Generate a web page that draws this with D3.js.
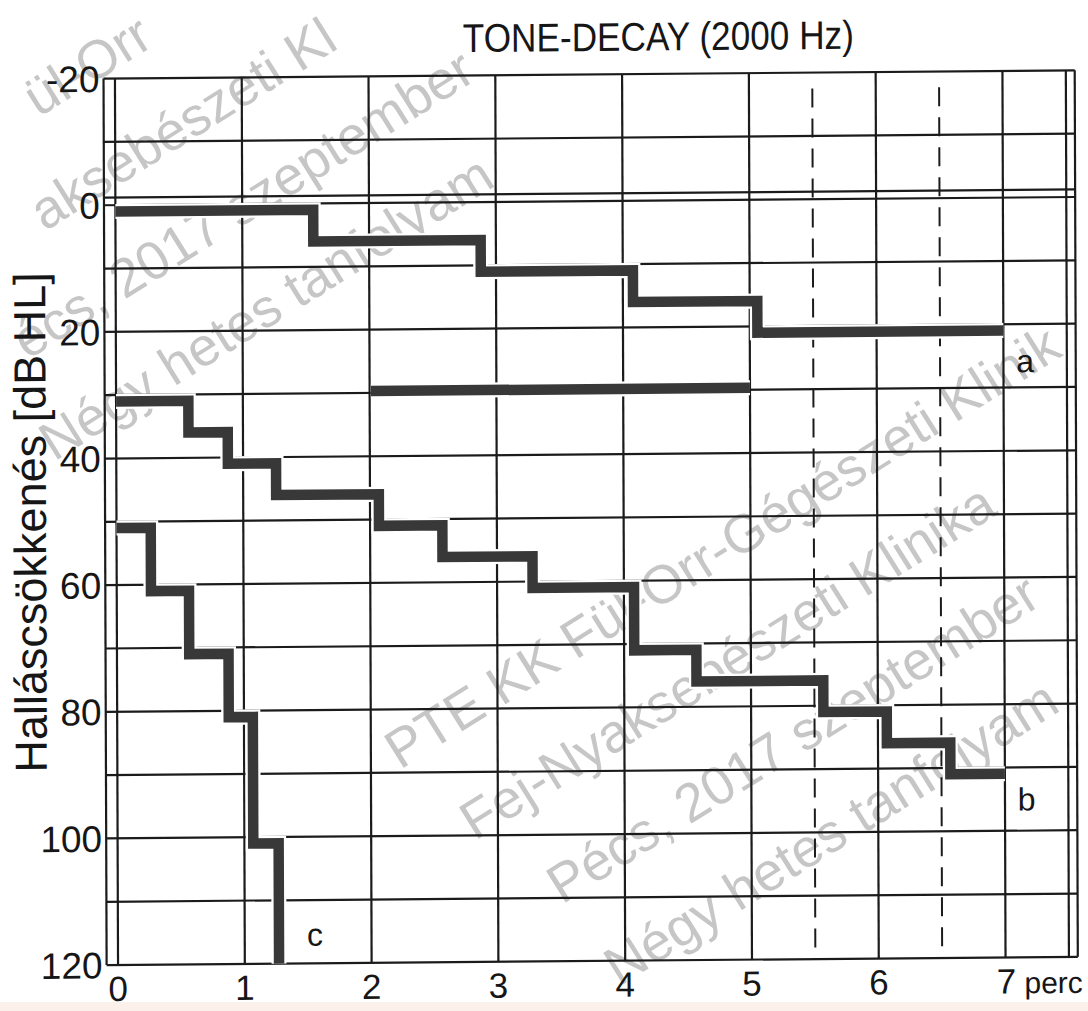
<!DOCTYPE html>
<html>
<head>
<meta charset="utf-8">
<script src="https://cdnjs.cloudflare.com/ajax/libs/d3/7.8.5/d3.min.js"></script>
<style>
body { margin: 0; background: #fff; }
svg { display: block; }
</style>
</head>
<body>
<div id="chart"></div>
<script>
// step curves: minutes -> dB HL (last point marks the end)
var seriesA_t  = [0, 1.56, 2.88, 4.08, 5.06, 7.0];
var seriesA_db = [1, 6, 11, 16, 21, 21];
var seriesB_t  = [0, 0.57, 0.88, 1.26, 2.07, 2.57, 3.28, 4.08, 4.57, 5.57, 6.07, 6.57, 7.0];
var seriesB_db = [31, 36, 41, 46, 51, 56, 61, 71, 76, 81, 86, 91, 91];
var seriesC_t  = [0, 0.27, 0.57, 0.88, 1.07, 1.27];
var seriesC_db = [51, 61, 71, 81, 101, 120];
// the lone bar around 30 dB
var barT  = [2.01, 5.0];
var barDb = [29.7, 29.7];

var yTicks = [-20, 0, 20, 40, 60, 80, 100, 120];
var xTicks = [0, 1, 2, 3, 4, 5, 6, 7];
var xTickLabels = ["0", "1", "2", "3", "4", "5", "6", "7"];
var xUnit = " perc";
var dashedMinutes = [5.5, 6.5];
var curveNames = ["a", "b", "c"];
var curveName_t  = [7.1, 7.1, 1.49];
var curveName_db = [27.6, 96.8, 117.2];

var watermarkLines = ["PTE KK Fül-Orr-Gégészeti Klinika", "Fej-Nyaksebészeti Klinika", "Pécs, 2017 szeptember", "Négy hetes tanfolyam"];

var W = 1088, H = 1011;
var font = "'Liberation Sans', Arial, sans-serif";
var ink = "#161616";

var svg = d3.select("#chart").append("svg")
    .attr("width", W)
    .attr("height", H);

svg.append("rect").attr("width", W).attr("height", H).attr("fill", "#fff");
svg.append("rect").attr("y", 1002).attr("width", W).attr("height", H - 1002).attr("fill", "#fbf1ea");

// keep only the glyphs of a (rotated) text that land inside the picture,
// the stamp is cropped by the page edge in the scan
function trimToCanvas(sel) {
    sel.each(function() {
        var t = this;
        var full = t.textContent;
        var n = t.getNumberOfChars();
        var m = t.getCTM();
        var ok = [];
        for (var i = 0; i < n; i++) {
            var r = t.getExtentOfChar(i);
            var corners = [[r.x, r.y], [r.x + r.width, r.y], [r.x, r.y + r.height], [r.x + r.width, r.y + r.height]];
            var inside = corners.every(function(c) {
                var p = svg.node().createSVGPoint();
                p.x = c[0]; p.y = c[1];
                p = p.matrixTransform(m);
                return p.x >= 1 && p.x <= W - 1 && p.y >= 1 && p.y <= H - 1;
            });
            ok.push(inside && full[i] != " ");
        }
        var i0 = ok.indexOf(true), i1 = ok.lastIndexOf(true);
        if (i0 < 0) { d3.select(t).remove(); return; }
        var x0 = t.getStartPositionOfChar(i0).x;
        d3.select(t).attr("x", x0).text(full.slice(i0, i1 + 1));
    });
}

// faint watermark stamps (behind everything)
var wmIndent = [0, 26, 66, 71];
function stamp(ox, oy) {
    var s = svg.append("g")
        .attr("transform", "translate(" + ox + "," + oy + ") rotate(-32)")
        .attr("fill", "#c6c6c6")
        .style("font-family", font)
        .style("font-size", "54px");
    s.selectAll("text")
        .data(watermarkLines)
        .join("text")
        .attr("x", function(d, i) { return wmIndent[i]; })
        .attr("y", function(d, i) { return i * 100; })
        .text(function(d) { return d; })
        .call(trimToCanvas);
}
stamp(400, 770);
stamp(-165, 245);

var x = d3.scaleLinear().domain([0, 7]).range([116.5, 1004]);
var y = d3.scaleLinear().domain([-20, 120]).range([74.5, 961]);

// the scan is slightly skewed
var g = svg.append("g")
    .attr("transform", "matrix(1,-0.0085,0.0035,1,-1.82,5.0)");

var left = x(-0.09), right = x(7.57);

// horizontal grid every 10 dB, plus the doubled 0 line
var hLines = d3.range(-20, 121, 10).concat([-1.2]);
g.append("g").selectAll("line")
    .data(hLines)
    .join("line")
    .attr("x1", left).attr("x2", right)
    .attr("y1", function(d) { return y(d); })
    .attr("y2", function(d) { return y(d); })
    .attr("stroke", "#1b1b1b")
    .attr("stroke-width", 2.2);

// vertical grid, half-minute edge line and outer frame
var vLines = xTicks.concat([7.5, -0.09, 7.57]);
g.append("g").selectAll("line")
    .data(vLines)
    .join("line")
    .attr("x1", function(d) { return x(d); })
    .attr("x2", function(d) { return x(d); })
    .attr("y1", y(-20)).attr("y2", y(120))
    .attr("stroke", "#1b1b1b")
    .attr("stroke-width", 2.2);

g.append("g").selectAll("line")
    .data(dashedMinutes)
    .join("line")
    .attr("x1", function(d) { return x(d); })
    .attr("x2", function(d) { return x(d); })
    .attr("y1", y(-17.5)).attr("y2", y(120))
    .attr("stroke", "#1b1b1b")
    .attr("stroke-width", 2)
    .attr("stroke-dasharray", "19,11");

// thick step curves
var step = d3.line()
    .x(function(d) { return x(d[0]); })
    .y(function(d) { return y(d[1]); })
    .curve(d3.curveStepAfter);

var curves = [
    d3.zip(seriesA_t, seriesA_db),
    d3.zip(seriesB_t, seriesB_db),
    d3.zip(seriesC_t, seriesC_db),
    d3.zip(barT, barDb)
];

g.append("g").selectAll("path")
    .data(curves)
    .join("path")
    .attr("d", step)
    .attr("fill", "none")
    .attr("stroke", "#fff")
    .attr("stroke-width", 15)
    .attr("stroke-linejoin", "miter");

g.append("g").selectAll("path")
    .data(curves)
    .join("path")
    .attr("d", step)
    .attr("fill", "none")
    .attr("stroke", "#383838")
    .attr("stroke-width", 10.5)
    .attr("stroke-linejoin", "miter");

// curve names
g.append("g").selectAll("text")
    .data(curveNames)
    .join("text")
    .attr("x", function(d, i) { return x(curveName_t[i]); })
    .attr("y", function(d, i) { return y(curveName_db[i]); })
    .style("font-family", font)
    .style("font-size", "32px")
    .attr("fill", ink)
    .text(function(d) { return d; });

// y tick labels
g.append("g").selectAll("text")
    .data(yTicks)
    .join("text")
    .attr("x", 101)
    .attr("y", function(d) { return y(d); })
    .attr("dy", "0.36em")
    .attr("text-anchor", "end")
    .style("font-family", font)
    .style("font-size", "37px")
    .attr("fill", ink)
    .text(function(d) { return d; });

// x tick labels; the last one carries the unit
var last = xTicks.length - 1;
var xLab = g.append("g").selectAll("text")
    .data(xTicks)
    .join("text")
    .attr("x", function(d, i) { return i == last ? x(d) - 9 : x(d); })
    .attr("y", 997)
    .attr("text-anchor", function(d, i) { return i == last ? "start" : "middle"; })
    .style("font-family", font)
    .style("font-size", "35px")
    .attr("fill", ink)
    .text(function(d, i) { return xTickLabels[i]; });
xLab.filter(function(d, i) { return i == last; })
    .append("tspan")
    .style("font-size", "30px")
    .text(xUnit);

// title
g.append("text")
    .attr("transform", "translate(660,51) scale(0.88,1)")
    .attr("text-anchor", "middle")
    .style("font-family", font)
    .style("font-size", "40px")
    .attr("fill", ink)
    .text("TONE-DECAY (2000 Hz)");

// y axis title
g.append("text")
    .attr("transform", "translate(46," + y(50) + ") rotate(-90)")
    .attr("text-anchor", "middle")
    .style("font-family", font)
    .style("font-size", "45px")
    .attr("fill", ink)
    .text("Halláscsökkenés [dB HL]");
</script>
</body>
</html>
